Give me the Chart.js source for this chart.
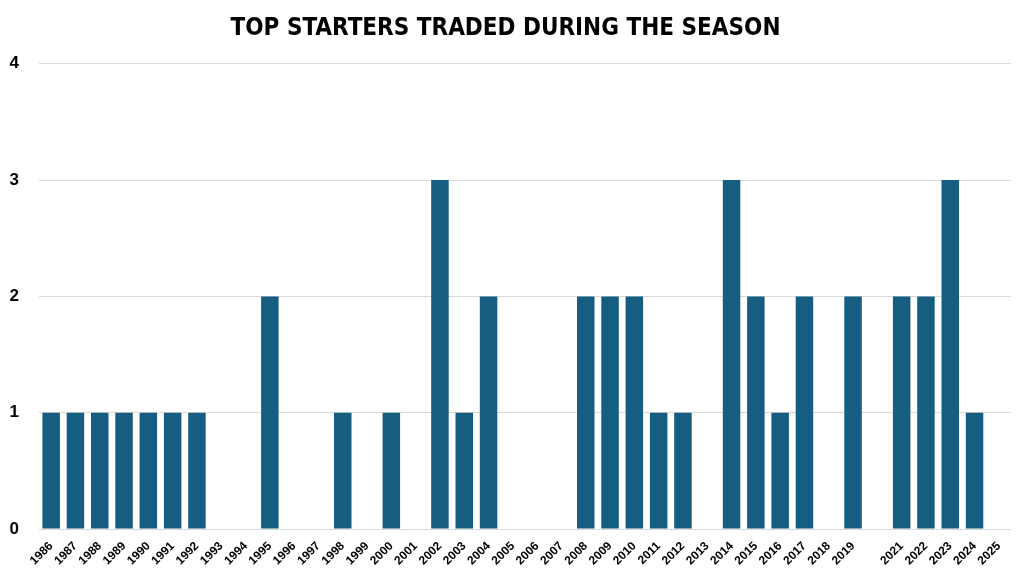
<!DOCTYPE html>
<html>
<head>
<meta charset="utf-8">
<script src="https://cdn.jsdelivr.net/npm/chart.js@4"></script>
<style>
  html, body { margin: 0; padding: 0; background: #fff; }
  #wrap { width: 1024px; height: 575px; }
</style>
</head>
<body>
<div id="wrap"><canvas id="barChart"></canvas></div>
<script>
// years on the axis (2020 sits in the axis but carries no label)
var years = [
  "1986", "1987", "1988", "1989", "1990", "1991", "1992", "1993", "1994", "1995",
  "1996", "1997", "1998", "1999", "2000", "2001", "2002", "2003", "2004", "2005",
  "2006", "2007", "2008", "2009", "2010", "2011", "2012", "2013", "2014", "2015",
  "2016", "2017", "2018", "2019", "", "2021", "2022", "2023", "2024", "2025",
];
var traded = [
  1, 1, 1, 1, 1, 1, 1, 0, 0, 2,
  0, 0, 1, 0, 1, 0, 3, 1, 2, 0,
  0, 0, 2, 2, 2, 1, 1, 0, 3, 2,
  1, 2, 0, 2, 0, 2, 2, 3, 1, 0,
];
var yTicks = [0, 1, 2, 3, 4];

var ctx = document.getElementById("barChart").getContext("2d");
var myChart = new Chart(ctx, {
  type: "bar",
  data: {
    labels: years,
    datasets: [
      {
        label: "Top starters traded",
        data: traded,
        backgroundColor: "#155e82",
        borderWidth: 0,
        categoryPercentage: 1,
        barPercentage: 0.72,
      },
    ],
  },
  options: {
    responsive: true,
    maintainAspectRatio: false,
    animation: false,
    layout: { padding: { left: 0, right: 13, top: 0, bottom: 0 } },
    plugins: {
      legend: { display: false },
      tooltip: { enabled: false },
      title: {
        display: true,
        text: "TOP STARTERS TRADED DURING THE SEASON",
        color: "#000",
        font: { family: "'DejaVu Sans Condensed', 'Liberation Sans Narrow', sans-serif", size: 24, weight: "bold" },
        padding: { top: 14, bottom: 21 },
      },
    },
    scales: {
      x: {
        grid: { display: false },
        border: { display: false },
        ticks: {
          autoSkip: false,
          minRotation: 45,
          maxRotation: 45,
          padding: 2,
          color: "#000",
          font: { family: "'Liberation Sans', Arial, sans-serif", size: 12, weight: "bold" },
        },
        afterFit: function (scale) { scale.height = 46; },
      },
      y: {
        min: yTicks[0],
        max: yTicks[yTicks.length - 1],
        afterBuildTicks: function (scale) {
          scale.ticks = yTicks.map(function (v) { return { value: v }; });
        },
        grid: { color: "#d9d9d9", lineWidth: 1, drawTicks: false },
        border: { display: false },
        ticks: {
          padding: 20,
          color: "#000",
          font: { family: "'Liberation Sans', Arial, sans-serif", size: 17, weight: "bold" },
        },
        afterFit: function (scale) { scale.width = 39; },
      },
    },
  },
});
</script>
</body>
</html>
